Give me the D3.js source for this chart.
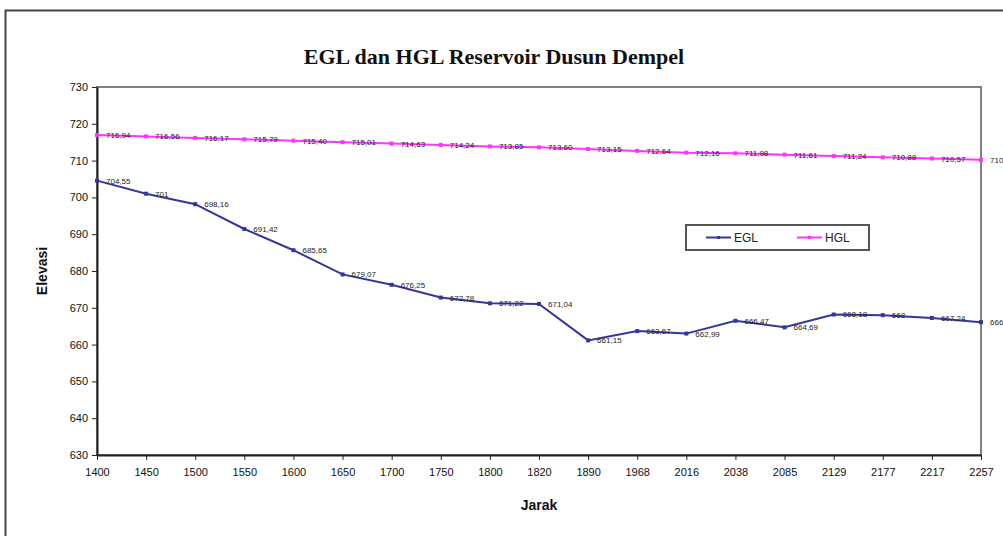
<!DOCTYPE html>
<html>
<head>
<meta charset="utf-8">
<script src="https://cdn.jsdelivr.net/npm/d3@7"></script>
<style>
  body { margin: 0; background: #fff; }
  svg { display: block; font-family: "Liberation Sans", Arial, sans-serif; }
</style>
</head>
<body>
<svg id="chart" width="1003" height="536"></svg>
<script>
const width = 1003;
const height = 536;

// Data
const jarak = ['1400', '1450', '1500', '1550', '1600', '1650', '1700', '1750', '1800', '1820',
               '1890', '1968', '2016', '2038', '2085', '2129', '2177', '2217', '2257'];
const egl = [704.55, 701, 698.16, 691.42, 685.65, 679.07, 676.25, 672.78, 671.22, 671.04,
             661.15, 663.67, 662.99, 666.47, 664.69, 668.18, 668, 667.24, 666.1];
const hgl = [716.94, 716.56, 716.17, 715.79, 715.40, 715.01, 714.63, 714.24, 713.85, 713.60,
             713.15, 712.64, 712.16, 711.98, 711.61, 711.24, 710.88, 710.57, 710.2];
const yTicks = [630, 640, 650, 660, 670, 680, 690, 700, 710, 720, 730];

const margin = { left: 97, right: 22, top: 87, bottom: 81 };

const svg = d3.select('#chart');

// outer frame (cut off at right/bottom like the screenshot)
svg.append('path')
    .attr('d', `M5.5,${height} V10.5 H${width}`)
    .attr('fill', 'none')
    .attr('stroke', '#444')
    .attr('stroke-width', 2);

const xScale = d3.scalePoint()
    .domain(jarak)
    .range([margin.left, width - margin.right]);

const yScale = d3.scaleLinear()
    .domain([630, 730])
    .range([height - margin.bottom, margin.top]);

// plot area border (grey top/right)
svg.append('rect')
    .attr('x', margin.left)
    .attr('y', margin.top)
    .attr('width', width - margin.right - margin.left)
    .attr('height', height - margin.bottom - margin.top)
    .attr('fill', 'none')
    .attr('stroke', '#808080')
    .attr('stroke-width', 2);

// y axis
const yAxis = d3.axisLeft(yScale).tickValues(yTicks).tickSize(5).tickSizeOuter(0).tickPadding(4);
const gy = svg.append('g')
    .attr('transform', `translate(${margin.left},0)`)
    .call(yAxis);
gy.select('.domain').attr('stroke', '#222').attr('stroke-width', 2);
gy.selectAll('.tick line').attr('stroke', '#222');
gy.selectAll('.tick text').attr('font-size', 11).attr('fill', '#111');

// x axis
const xAxis = d3.axisBottom(xScale).tickSize(5).tickSizeOuter(0).tickPadding(8);
const gx = svg.append('g')
    .attr('transform', `translate(0,${height - margin.bottom})`)
    .call(xAxis);
gx.select('.domain').attr('stroke', '#222').attr('stroke-width', 2);
gx.selectAll('.tick line').attr('stroke', '#222');
gx.selectAll('.tick text').attr('font-size', 11).attr('fill', '#111');

// title and axis titles
svg.append('text')
    .attr('x', 494).attr('y', 64)
    .attr('text-anchor', 'middle')
    .attr('font-family', '"Liberation Serif", "Times New Roman", serif')
    .attr('font-weight', 'bold')
    .attr('font-size', 22)
    .attr('fill', '#111')
    .text('EGL dan HGL Reservoir Dusun Dempel');

svg.append('text')
    .attr('x', 539).attr('y', 510)
    .attr('text-anchor', 'middle')
    .attr('font-weight', 'bold')
    .attr('font-size', 14)
    .attr('fill', '#111')
    .text('Jarak');

svg.append('text')
    .attr('transform', 'translate(47,271) rotate(-90)')
    .attr('text-anchor', 'middle')
    .attr('font-weight', 'bold')
    .attr('font-size', 14)
    .attr('fill', '#111')
    .text('Elevasi');

// data labels use a decimal comma, integers without decimals
const fmt = v => (Number.isInteger(v) ? String(v) : v.toFixed(2)).replace('.', ',');

const series = [
    { name: 'EGL', values: egl, color: '#35359c' },
    { name: 'HGL', values: hgl, color: '#ff33ff' }
];

const line = d3.line()
    .x((d, i) => xScale(jarak[i]))
    .y(d => yScale(d));

series.forEach(s => {
    const g = svg.append('g');
    g.append('path')
        .datum(s.values)
        .attr('fill', 'none')
        .attr('stroke', s.color)
        .attr('stroke-width', 2)
        .attr('d', line);
    g.selectAll('rect')
        .data(s.values)
        .enter().append('rect')
        .attr('x', (d, i) => xScale(jarak[i]) - 2)
        .attr('y', d => yScale(d) - 2)
        .attr('width', 4).attr('height', 4)
        .attr('fill', s.color);
    g.selectAll('text')
        .data(s.values)
        .enter().append('text')
        .attr('x', (d, i) => xScale(jarak[i]) + 9)
        .attr('y', d => yScale(d) + 3)
        .attr('font-size', 8)
        .attr('fill', '#222')
        .text(d => fmt(d));
});

// legend
const legend = svg.append('g').attr('transform', 'translate(686,225)');
legend.append('rect')
    .attr('width', 183).attr('height', 25)
    .attr('fill', '#fff')
    .attr('stroke', '#555')
    .attr('stroke-width', 2);
series.forEach((s, i) => {
    const lx = 20 + i * 91;
    legend.append('line')
        .attr('x1', lx).attr('x2', lx + 25)
        .attr('y1', 12.5).attr('y2', 12.5)
        .attr('stroke', s.color).attr('stroke-width', 2);
    legend.append('rect')
        .attr('x', lx + 11).attr('y', 11)
        .attr('width', 3).attr('height', 3)
        .attr('fill', s.color);
    legend.append('text')
        .attr('x', lx + 28).attr('y', 17)
        .attr('font-size', 12)
        .attr('fill', '#222')
        .text(s.name);
});
</script>
</body>
</html>
